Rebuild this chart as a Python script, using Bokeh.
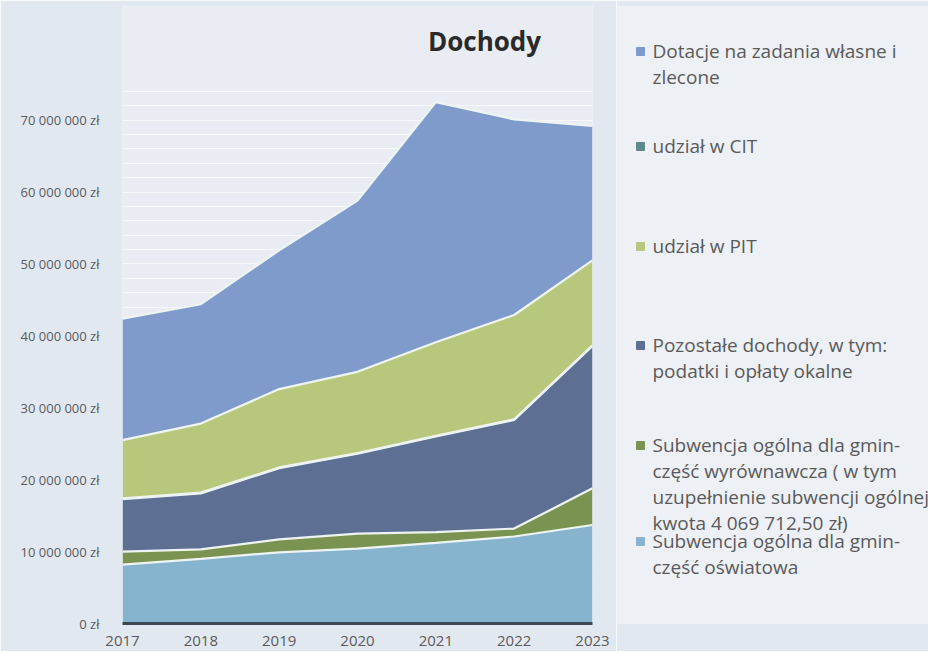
from bokeh.plotting import figure
from bokeh.models import FixedTicker, Range1d, Label
from bokeh.layouts import row
from bokeh.core.properties import value
from bokeh.embed import file_html
from bokeh.resources import INLINE
import numpy as np

years = [2017, 2018, 2019, 2020, 2021, 2022, 2023]

# values in zł, bottom to top of the stack
oswiatowa = [8.2e6, 9.0e6, 9.9e6, 10.4e6, 11.2e6, 12.1e6, 13.7e6]
wyrownawcza = [1.8e6, 1.3e6, 1.8e6, 2.1e6, 1.5e6, 1.1e6, 5.1e6]
pozostale = [7.3e6, 7.8e6, 9.9e6, 11.1e6, 13.3e6, 15.1e6, 19.8e6]
cit = [0.1e6, 0.1e6, 0.1e6, 0.1e6, 0.1e6, 0.1e6, 0.1e6]
pit = [8.1e6, 9.6e6, 10.9e6, 11.3e6, 13.0e6, 14.5e6, 11.8e6]
dotacje = [16.9e6, 16.6e6, 19.3e6, 23.8e6, 33.4e6, 27.2e6, 18.7e6]

series_names = ["oswiatowa", "wyrownawcza", "pozostale", "cit", "pit", "dotacje"]
series_colors = ["#86b3cd", "#7b9350", "#5e6f94", "#5f8a8b", "#b7c77c", "#7f9bcb"]

y_ticks = [0, 10e6, 20e6, 30e6, 40e6, 50e6, 60e6, 70e6]
y_tick_labels = ["0 zł", "10 000 000 zł", "20 000 000 zł", "30 000 000 zł",
                 "40 000 000 zł", "50 000 000 zł", "60 000 000 zł", "70 000 000 zł"]
grid_minor = list(np.arange(0, 75e6, 2e6))

title_text = "Dochody"
legend_entries = [
    (["Dotacje na zadania własne i", "zlecone"], "#7f9bcb"),
    (["udział w CIT"], "#5f8a8b"),
    (["udział w PIT"], "#b7c77c"),
    (["Pozostałe dochody, w tym:", "podatki i opłaty okalne"], "#5e6f94"),
    (["Subwencja ogólna dla gmin-", "część wyrównawcza ( w tym",
      "uzupełnienie subwencji ogólnej", "kwota 4 069 712,50 zł)"], "#7b9350"),
    (["Subwencja ogólna dla gmin-", "część oświatowa"], "#86b3cd"),
]

data = dict(x=years, oswiatowa=oswiatowa, wyrownawcza=wyrownawcza, pozostale=pozostale,
            cit=cit, pit=pit, dotacje=dotacje)

BG = "#e2e8f0"
TOP = 6
BOTTOM = 28
H = 651

p = figure(width=616, height=H, output_backend="svg", toolbar_location=None,
           x_range=(2017, 2023), y_range=(0, 85.8e6),
           min_border_left=122, min_border_right=24, min_border_top=TOP, min_border_bottom=BOTTOM)
p.border_fill_color = BG
p.background_fill_color = "#e9edf3"
p.outline_line_color = None

p.varea_stack(stackers=series_names, x="x", color=series_colors, source=data)
p.vline_stack(stackers=series_names, x="x", color="#eef4f2", line_width=2.2, source=data)

p.yaxis.ticker = FixedTicker(ticks=y_ticks, minor_ticks=grid_minor)
p.yaxis.major_label_overrides = {t: l for t, l in zip(y_ticks, y_tick_labels)}
p.yaxis.axis_line_color = None
p.yaxis.major_tick_line_color = None
p.yaxis.minor_tick_line_color = None
p.yaxis.major_label_text_font = "Open Sans"
p.yaxis.major_label_text_font_size = "13px"
p.yaxis.major_label_text_color = "#5a5a5a"
p.yaxis.major_label_standoff = 17

p.xaxis.ticker = FixedTicker(ticks=years)
p.xaxis.axis_line_color = "#3d4756"
p.xaxis.axis_line_width = 3
p.xaxis.major_tick_line_color = None
p.xaxis.minor_tick_line_color = None
p.xaxis.major_label_text_font = "Open Sans"
p.xaxis.major_label_text_font_size = "15px"
p.xaxis.major_label_text_color = "#5a5a5a"
p.xaxis.major_label_standoff = 6

p.xgrid.grid_line_color = None
p.ygrid.grid_line_color = "#f7f8fa"
p.ygrid.grid_line_width = 1.2
p.ygrid.minor_grid_line_color = "#f7f8fa"
p.ygrid.minor_grid_line_width = 1.2

p.add_layout(Label(x=362, y=583, x_units="screen", y_units="screen", text=title_text,
                   text_align="center", text_baseline="middle", text_font="Open Sans",
                   text_font_style="bold", text_font_size="26px", text_color="#2a2a2a"))

# legend panel as a second figure (pixel-like coordinates, y downward)
LW = 928 - 616
lg = figure(width=LW, height=H, output_backend="svg", toolbar_location=None,
            x_range=Range1d(0, LW), y_range=Range1d(H - BOTTOM, TOP),
            x_axis_location=None, y_axis_location=None,
            min_border_left=0, min_border_right=0, min_border_top=TOP, min_border_bottom=BOTTOM)
lg.border_fill_color = BG
lg.background_fill_color = "#edf0f5"
lg.outline_line_color = None
lg.grid.visible = False

line_step = 26
first_line_y = [50, 145, 245, 344, 444, 540]
tx, ty, tt = [], [], []
sx, sy, sc = [], [], []
for (lines, col), y0 in zip(legend_entries, first_line_y):
    sx.append(24)
    sy.append(y0 + 1)
    sc.append(col)
    for i, ln in enumerate(lines):
        tx.append(36)
        ty.append(y0 + i * line_step)
        tt.append(ln)

lg.scatter(x=sx, y=sy, marker="square", size=8, color=sc)
lg.text(x=tx, y=ty, text=tt, text_align="left", text_baseline="middle",
        text_font=value("Open Sans"), text_font_size="19px", text_color="#5a5a5a")

layout = row(p, lg)
open("out.html", "w").write(file_html(layout, INLINE))
